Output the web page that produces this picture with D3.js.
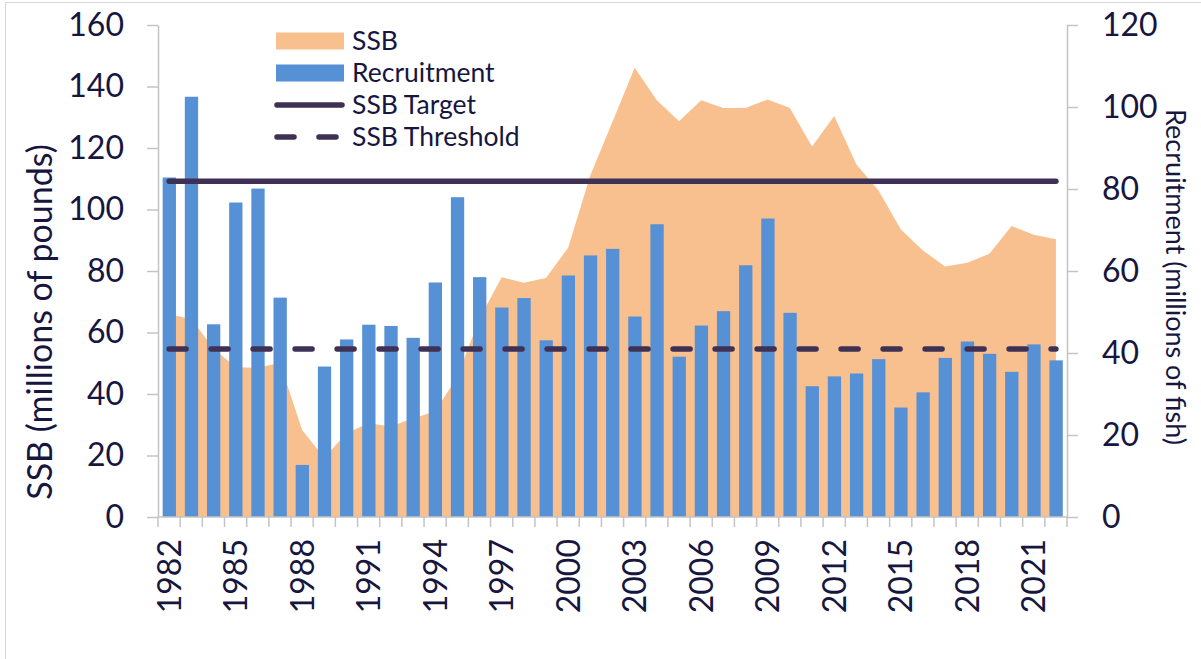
<!DOCTYPE html>
<html>
<head>
<style>
  body { margin: 0; background: #fff; }
  text { font-family: "Lato", "Open Sans", sans-serif; fill: #16163f; }
</style>
</head>
<body>
<svg width="1201" height="659"></svg>
<script src="https://cdn.jsdelivr.net/npm/d3@7"></script>
<script>

// data
var years = [1982, 1983, 1984, 1985, 1986, 1987, 1988, 1989, 1990, 1991, 1992, 1993, 1994, 1995,
  1996, 1997, 1998, 1999, 2000, 2001, 2002, 2003, 2004, 2005, 2006, 2007, 2008, 2009, 2010,
  2011, 2012, 2013, 2014, 2015, 2016, 2017, 2018, 2019, 2020, 2021, 2022];

var ssb = [66, 64.3, 54.9, 48.7, 48.5, 50.2, 28.3, 19.3, 27.2, 30.5, 29.4, 32.1, 34.3, 45.6,
  64.5, 78, 76.2, 77.7, 87.6, 111.1, 128.5, 146.1, 135.5, 128.7, 135.5, 133.0, 133.0, 135.8,
  133.0, 120.5, 130.4, 114.6, 106.2, 93.6, 86.7, 81.5, 82.7, 85.6, 94.6, 91.8, 90.3];

var recruitment = [82.8, 102.5, 47.0, 76.7, 80.1, 53.5, 12.7, 36.7, 43.3, 46.9, 46.6, 43.7,
  57.2, 78.0, 58.5, 51.1, 53.4, 43.1, 58.9, 63.8, 65.4, 48.9, 71.4, 39.1, 46.7, 50.2, 61.4,
  72.8, 49.8, 31.9, 34.3, 35.0, 38.5, 26.7, 30.4, 38.8, 42.8, 39.8, 35.4, 42.1, 38.2];

var ssbTarget = 109.2;
var ssbThreshold = 54.6;

var ssbTicks = [0, 20, 40, 60, 80, 100, 120, 140, 160];
var recTicks = [0, 20, 40, 60, 80, 100, 120];
var yearLabels = [1982, 1985, 1988, 1991, 1994, 1997, 2000, 2003, 2006, 2009, 2012, 2015, 2018, 2021];

var legendItems = ["SSB", "Recruitment", "SSB Target", "SSB Threshold"];

//set up svg
var svg = d3.select("svg"),
  plotLeft = 158, plotRight = 1067, plotTop = 25, plotBottom = 517;

var axisColor = "#c4c4c4",
  lineColor = "#3f3155",
  areaColor = "#f9c08f",
  barColor = "#5690d5";

// outer frame
svg.append("path")
  .attr("d", "M5.5,700 V2.5 H1300")
  .attr("fill", "none")
  .attr("stroke", "#d6d6d6");

var x = d3.scaleBand()
  .domain(years)
  .range([plotLeft, plotRight])
  .padding(0);

var yL = d3.scaleLinear().domain([0, 160]).range([plotBottom, plotTop]);
var yR = d3.scaleLinear().domain([0, 120]).range([plotBottom, plotTop]);

var bw = x.bandwidth();
var cx = function(d) { return x(d) + bw / 2; };

// SSB area
var area = d3.area()
  .x(function(d, i) { return cx(years[i]); })
  .y0(yL(0))
  .y1(function(d) { return yL(d); });

svg.append("path")
  .datum(ssb)
  .attr("fill", areaColor)
  .attr("d", area);

// recruitment bars
svg.append("g")
  .selectAll("rect")
  .data(recruitment)
  .enter().append("rect")
  .attr("x", function(d, i) { return x(years[i]) + bw * 0.21; })
  .attr("width", bw * 0.6)
  .attr("y", function(d) { return yR(d); })
  .attr("height", function(d) { return yR(0) - yR(d); })
  .attr("fill", barColor);

// reference lines
svg.append("line")
  .attr("x1", cx(years[0])).attr("x2", cx(years[years.length - 1]))
  .attr("y1", yL(ssbTarget)).attr("y2", yL(ssbTarget))
  .attr("stroke", lineColor).attr("stroke-width", 5.5)
  .attr("stroke-linecap", "round");

svg.append("line")
  .attr("x1", cx(years[0])).attr("x2", cx(years[years.length - 1]))
  .attr("y1", yL(ssbThreshold)).attr("y2", yL(ssbThreshold))
  .attr("stroke", lineColor).attr("stroke-width", 5.5)
  .attr("stroke-linecap", "round")
  .attr("stroke-dasharray", "17,25");

// axes
var axL = svg.append("g")
  .attr("transform", "translate(" + plotLeft + ",0)")
  .call(d3.axisLeft(yL).tickValues(ssbTicks).tickSize(11).tickPadding(23).tickSizeOuter(0));

var axR = svg.append("g")
  .attr("transform", "translate(" + plotRight + ",0)")
  .call(d3.axisRight(yR).tickValues(recTicks).tickSize(11).tickPadding(24).tickSizeOuter(0));

[axL, axR].forEach(function(a) {
  a.select(".domain").attr("stroke", axisColor).attr("stroke-width", 1.5);
  a.selectAll(".tick line").attr("stroke", axisColor).attr("stroke-width", 1.5);
  a.selectAll(".tick text")
    .attr("font-size", 32)
    .attr("font-family", "Lato, sans-serif")
    .attr("fill", "#16163f");
});

// bottom axis
var axB = svg.append("g");

axB.append("line")
  .attr("x1", plotLeft).attr("x2", plotRight)
  .attr("y1", plotBottom).attr("y2", plotBottom)
  .attr("stroke", axisColor).attr("stroke-width", 1.5);

axB.selectAll(".btick")
  .data(years.concat(["end"]))
  .enter().append("line")
  .attr("class", "btick")
  .attr("x1", function(d) { return d === "end" ? plotRight : x(d); })
  .attr("x2", function(d) { return d === "end" ? plotRight : x(d); })
  .attr("y1", plotBottom).attr("y2", plotBottom + 10)
  .attr("stroke", axisColor).attr("stroke-width", 1.5);

axB.selectAll(".blabel")
  .data(yearLabels)
  .enter().append("text")
  .attr("class", "blabel")
  .attr("transform", function(d) { return "translate(" + cx(d) + "," + 539 + ") rotate(-90)"; })
  .attr("text-anchor", "end")
  .attr("dy", "0.36em")
  .attr("font-size", 32)
  .text(function(d) { return d; });

// axis titles
svg.append("text")
  .attr("transform", "translate(40,322) rotate(-90)")
  .attr("text-anchor", "middle")
  .attr("dy", "0.35em")
  .attr("font-size", 34)
  .text("SSB (millions of pounds)");

svg.append("text")
  .attr("transform", "translate(1175,277) rotate(90)")
  .attr("text-anchor", "middle")
  .attr("dy", "0.35em")
  .attr("font-size", 27)
  .text("Recruitment (millions of fish)");

//legend
var legend = svg.append("g")
  .selectAll("g")
  .data(legendItems)
  .enter().append("g")
  .attr("transform", function(d, i) { return "translate(0," + (41 + i * 32) + ")"; });

legend.each(function(d, i) {
  var g = d3.select(this);
  if (i < 2) {
    g.append("rect")
      .attr("x", 276).attr("y", -8.5)
      .attr("width", 68).attr("height", 17)
      .attr("fill", i === 0 ? areaColor : barColor);
  } else {
    g.append("line")
      .attr("x1", 277).attr("x2", 342)
      .attr("y1", 0).attr("y2", 0)
      .attr("stroke", lineColor).attr("stroke-width", 5.5)
      .attr("stroke-linecap", "round")
      .attr("stroke-dasharray", i === 3 ? "17,25" : null);
  }
});

legend.append("text")
  .attr("x", 352)
  .attr("dy", "0.35em")
  .attr("font-size", 26.5)
  .text(function(d) { return d; });

</script>
</body>
</html>
